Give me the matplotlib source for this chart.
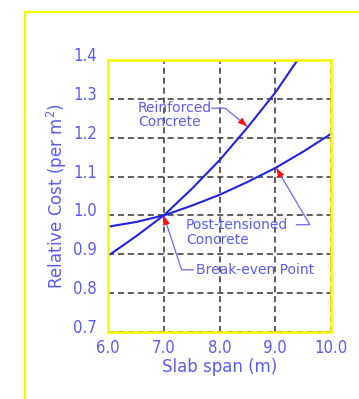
import matplotlib.pyplot as plt
import matplotlib.transforms as mtransforms
from matplotlib.patches import Rectangle

# Data
span_rc = [6.0, 6.5, 7.0, 7.5, 8.0, 8.5, 9.0, 9.4]
cost_rc = [0.896, 0.946, 1.0, 1.068, 1.142, 1.226, 1.316, 1.40]

span_pt = [6.0, 6.5, 7.0, 7.5, 8.0, 8.5, 9.0, 9.5, 10.0]
cost_pt = [0.971, 0.983, 1.0, 1.025, 1.053, 1.086, 1.122, 1.164, 1.21]

x_ticks = [6.0, 7.0, 8.0, 9.0, 10.0]
y_ticks = [0.7, 0.8, 0.9, 1.0, 1.1, 1.2, 1.3, 1.4]

plt.rcParams['font.family'] = ['DejaVu Sans']

txt_blue = '#5b5bf5'
line_blue = '#2222e6'
leader_blue = '#6a6af0'
yellow = '#f7f700'

fig = plt.figure(figsize=(3.59, 3.99), dpi=100)
W, H = 359, 399
ax = fig.add_axes([108 / W, 1 - 332 / H, 223 / W, 272 / H])

# outer yellow frame (runs off the picture on the right and bottom)
fig.patches.append(Rectangle((25 / W, -0.1), 1.2, 1 - 12 / H + 0.1, transform=fig.transFigure,
                             fill=False, edgecolor=yellow, linewidth=1.6))

ax.plot(span_rc, cost_rc, color=line_blue, lw=1.5, zorder=3)
ax.plot(span_pt, cost_pt, color=line_blue, lw=1.5, zorder=3)

ax.set_xlim(6, 10)
ax.set_ylim(0.7, 1.4)
ax.set_xticks(x_ticks)
ax.set_yticks(y_ticks)
ax.set_xticklabels(['%.1f' % v for v in x_ticks], fontstretch='condensed')
ax.set_yticklabels(['%.1f' % v for v in y_ticks], fontstretch='condensed')
ax.tick_params(length=0, labelsize=12, colors=txt_blue, pad=5)
ax.tick_params(axis='y', pad=8)
off = mtransforms.ScaledTranslation(0, 6 / 100, fig.dpi_scale_trans)
for lab in ax.get_yticklabels():
    lab.set_transform(lab.get_transform() + off)

ax.grid(True, color='#333333', linestyle=(0, (4, 2.5)), lw=1.1)
for s in ax.spines.values():
    s.set_color(yellow)
    s.set_linewidth(1.8)
    s.set_zorder(4)

ax.set_xlabel('Slab span (m)', fontsize=12, color=txt_blue, labelpad=1)
ax.set_ylabel('Relative Cost (per m$^2$)', fontsize=12, color=txt_blue, labelpad=3)


def leader(pts, tip_from):
    xs = [p[0] for p in pts]
    ys = [p[1] for p in pts]
    ax.plot(xs, ys, color=leader_blue, lw=0.9, zorder=2, clip_on=False)
    # red arrow head pointing at pts[0]
    ax.annotate('', xy=pts[0], xytext=tip_from,
                arrowprops=dict(arrowstyle='-|>,head_length=0.7,head_width=0.25',
                                color='#ff1010', lw=0, shrinkA=0, shrinkB=0), zorder=5)


# Reinforced Concrete
leader([(8.50, 1.229), (8.10, 1.276), (7.86, 1.276)], (8.30, 1.253))
ax.text(6.54, 1.276, 'Reinforced', fontsize=10, color=txt_blue, va='center', ha='left')
ax.text(6.54, 1.240, 'Concrete', fontsize=10, color=txt_blue, va='center', ha='left')

# Post-tensioned Concrete
leader([(9.02, 1.122), (9.62, 0.976), (9.38, 0.976)], (9.12, 1.097))
ax.text(7.40, 0.976, 'Post-tensioned', fontsize=10, color=txt_blue, va='center', ha='left')
ax.text(7.40, 0.937, 'Concrete', fontsize=10, color=txt_blue, va='center', ha='left')

# Break-even Point
leader([(7.0, 1.0), (7.32, 0.86), (7.53, 0.86)], (7.05, 0.975))
ax.text(7.58, 0.86, 'Break-even Point', fontsize=10, color=txt_blue, va='center', ha='left')

fig.savefig('out.png', dpi=100)
